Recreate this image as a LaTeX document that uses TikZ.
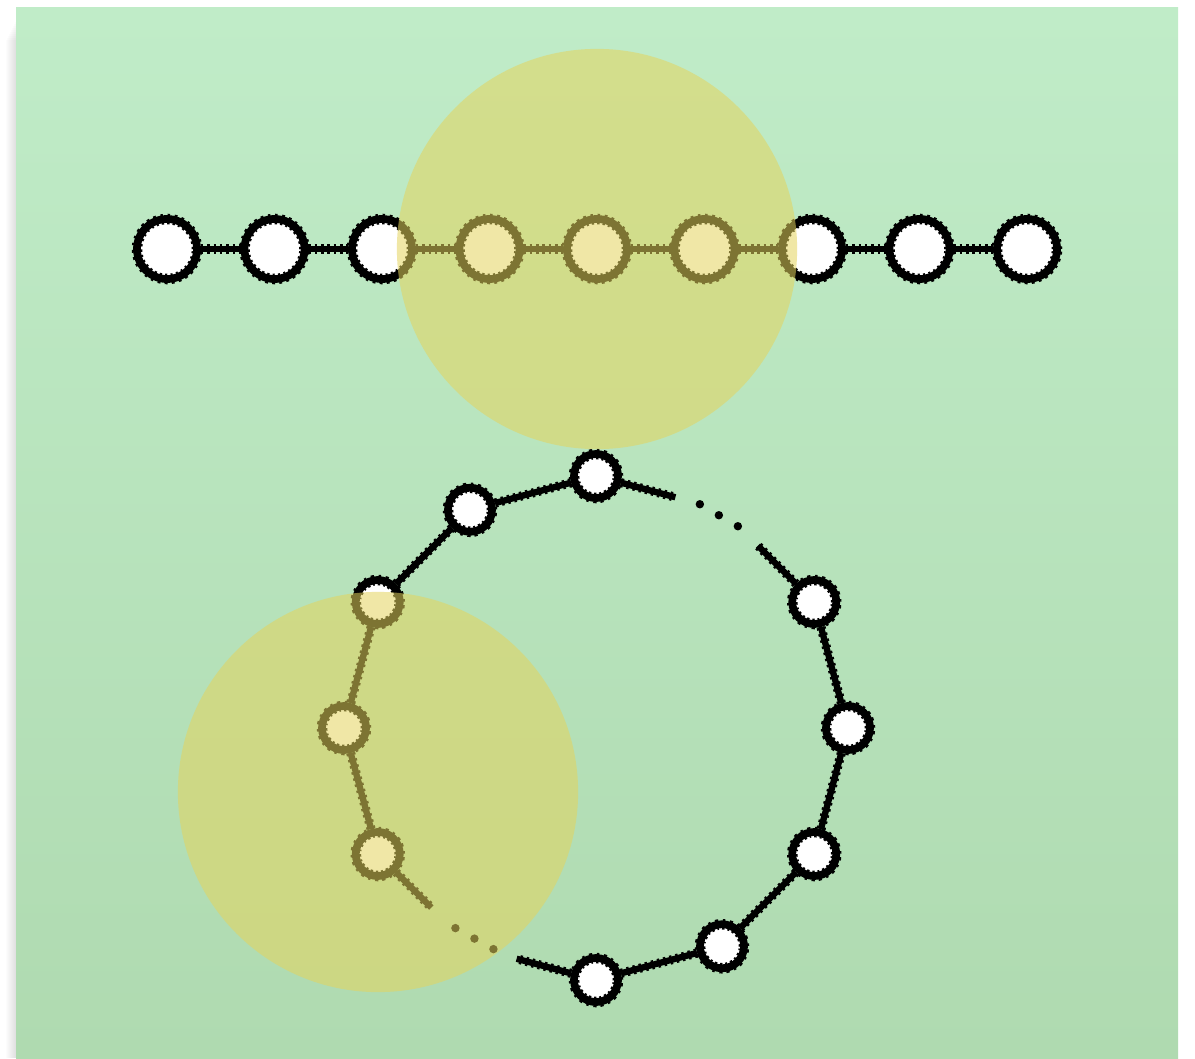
\documentclass[tikz,border=0pt]{standalone}
\usepackage{tikz}
\usetikzlibrary{calc}
\usepackage{xcolor}
\definecolor{panelhi}{HTML}{C0ECC8}
\definecolor{panello}{HTML}{AFDAB0}
\definecolor{spotyel}{HTML}{E4D45D}

\begin{document}
\begin{tikzpicture}[x=0.01cm, y=-0.01cm,
    rough/.style={postaction={draw=black, line width=#1, dash pattern=on 0.7pt off 1.1pt}},
    bead/.style={circle, draw=black, fill=white, line width=2.2pt, inner sep=0pt,
                 minimum size=0.6cm, rough=3pt},
    smallbead/.style={bead, minimum size=0.44cm},
    link/.style={line width=1.8pt, rough=2.6pt},
    spot/.style={fill=spotyel, fill opacity=0.55}]
    \useasboundingbox (0,0) rectangle (1195,1058);
    \fill[white] (0,0) rectangle (1195,1058);
    % soft shadow on the left
    \foreach \i in {1,...,10}
      \fill[black, opacity=0.012] (16-\i,20+2*\i) rectangle (16,1058);
    \shade[top color=panelhi, bottom color=panello] (16,8) rectangle (1178,1058);

    % straight chain
    \foreach \i in {1,...,9}
      \node[bead] (t\i) at ({167+107.5*(\i-1)},249) {};
    \foreach \i [evaluate=\i as \j using int(\i+1)] in {1,...,8}
      \draw[link] (t\i) -- (t\j);

    % ring
    \coordinate (ctr) at (596,728);
    \foreach \a in {0,30,90,120,150,180,210,270,300,330}
      \node[smallbead] (r\a) at ({596+252*cos(\a)},{728-252*sin(\a)}) {};
    \coordinate (g60) at ({596+252*cos(60)},{728-252*sin(60)});
    \coordinate (g240) at ({596+252*cos(240)},{728-252*sin(240)});
    \foreach \p/\q in {0/30, 90/120, 120/150, 150/180, 180/210, 270/300, 300/330, 330/0}
      \draw[link] (r\p) -- (r\q);
    \draw[link] (r90) -- ($(g60)!0.37!(r90)$);
    \draw[link] (r30) -- ($(g60)!0.39!(r30)$);
    \draw[link] (r210) -- ($(g240)!0.42!(r210)$);
    \draw[link] (r270) -- ($(g240)!0.37!(r270)$);
    \foreach \t in {-1,0,1} {
      \fill ($($(g60)!0.025!(ctr)$)+(\t*19,\t*11)$) circle (1.2pt);
      \fill ($($(g240)!0.035!(ctr)$)+(\t*19,\t*10.5)$) circle (1.2pt);
    }

    % highlighted windows
    \fill[spot] (597,249) circle (2cm);
    \fill[spot] (378,792) circle (2cm);
\end{tikzpicture}
\end{document}
